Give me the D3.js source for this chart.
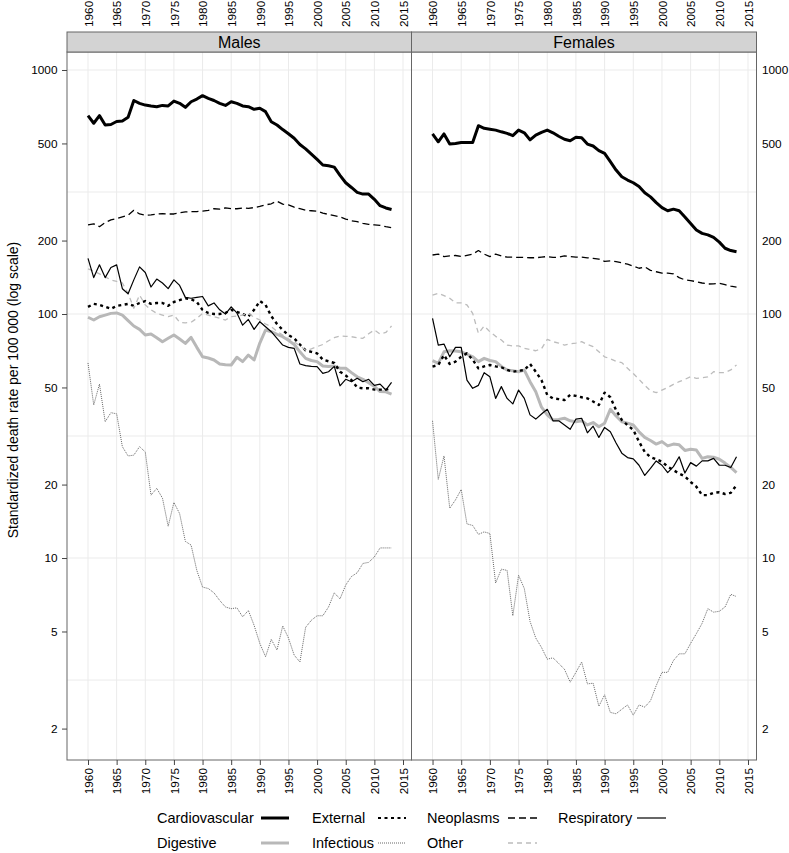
<!DOCTYPE html>
<html><head><meta charset="utf-8">
<script src="https://cdn.jsdelivr.net/npm/d3@7"></script>
<style>
body{margin:0;background:#fff}
svg{display:block}
text{font-family:"Liberation Sans",Arial,Helvetica,sans-serif;fill:#000}
</style>
</head><body>
<svg id="chart" width="789" height="853"></svg>
<script>
// ---------- data ----------
const years = [1960,1961,1962,1963,1964,1965,1966,1967,1968,1969,1970,1971,1972,1973,1974,1975,1976,1977,1978,1979,1980,1981,1982,1983,1984,1985,1986,1987,1988,1989,1990,1991,1992,1993,1994,1995,1996,1997,1998,1999,2000,2001,2002,2003,2004,2005,2006,2007,2008,2009,2010,2011,2012,2013];
const xTickYears = [1960,1965,1970,1975,1980,1985,1990,1995,2000,2005,2010,2015];
const yTickValues = [2,5,10,20,50,100,200,500,1000];
const yGridValues = [3.1623,10,31.623,100,316.23,1000];
const panelNames = ["Males","Females"];
const causes = ["Cardiovascular","Digestive","External","Infectious","Neoplasms","Other","Respiratory"];

const malesCardiovascular = [650,605,650,595,598,615,618,640,750,730,718,712,707,716,712,746,730,703,741,760,785,765,750,730,716,741,730,712,707,690,697,675,614,595,570,548,525,495,475,452,430,408,405,400,370,345,330,315,310,310,295,278,272,268];
const malesDigestive = [97,94.5,97.5,99,100.6,101,99,94,89.3,86.5,82,82.8,80,77,79.5,82,79,75.8,80.2,73,66.8,66,64.8,62.4,62,61.8,66.5,63.8,67.9,64.8,76,86,84.6,82.5,80.7,78,75,70,65.8,64.5,63.8,61.2,61,61.2,60,59.9,57.5,55.3,54,52.3,50.5,48.1,48,47];
const malesExternal = [107,110,109,107,105,108,109,110,108,111,113,110,111,111,108,112,114,116,115,112,104,101,100,100,101,104,102,100,97.5,104,113,109,98,91,86,82,79.5,75,71,70,69,65,64,63,58,56,53.6,50,49.6,49.6,49,49,49,49.6];
const malesInfectious = [63,42.4,51.6,36.2,39.4,39,28.6,26.2,26.4,28.6,27.2,18.1,19.3,17.6,13.5,16.9,15.2,11.7,11.3,8.9,7.6,7.5,7.2,6.7,6.3,6.2,6.25,5.74,6.1,5.3,4.47,3.94,4.64,4.2,5.27,4.7,4.0,3.75,5.2,5.56,5.8,5.8,6.3,7.2,6.8,7.75,8.4,8.7,9.5,9.6,10.1,11,11,11];
const malesNeoplasms = [232,234,228,237,243,246,250,254,266,257,254,255,257,258,257,257,260,262,263,263,264,266,270,269,272,270,270,272,271,273,276,280,283,290,282,280,274,270,266,265,264,259,256,253,250,245,241,239,235,233,232,231,228,226];
const malesOther = [153,150,146,142,138,136,134,121.6,105.5,119.6,109,104,100.6,99,97.5,99,92.5,92,92.5,96,100.6,99,97.5,96,94.5,97.5,98,99,100.6,97,94.5,91,88.7,85,82,79,77,74,71,72,73.5,75,77.7,80,81.3,81,80.7,80,79.5,83,86,82.8,84,89.3];
const malesRespiratory = [169,141,159,141,155,159,127,121,138,156,148,129,139,134,127,138,131,117,116,117,118,108,111,104,100,107,101,90,95,86.5,93,88.7,84.6,79.5,74.6,73,72.3,62.4,61.4,61,60.9,57.1,58,61,50.8,54,52.8,54.5,52.8,54,51,51.6,48.8,52.5];

const femalesCardiovascular = [547,508,547,497,500,504,504,504,591,577,572,567,558,550,538,567,553,517,541,555,567,553,535,520,513,530,528,497,488,467,455,421,389,365,354,345,333,314,302,286,273,265,269,265,250,235,221,214,211,206,197,186,182,180];
const femalesDigestive = [64.4,62.8,70,70.7,70.5,70,68.5,66.8,63.8,65.8,64.5,63.8,61,58.9,58.5,58,58.9,52.8,48,41.5,38.6,36.8,37,37.4,36.5,36.2,36.5,35.1,35.9,34.5,35.7,40.7,38.2,36.2,35.7,35.1,32.9,31.2,30.3,29.3,30,28.8,29.3,29.1,27.6,27.9,27.7,25.6,26,25.9,25.4,24.5,23.5,22.4];
const femalesExternal = [60.9,61.8,67.9,62.4,63.8,66.8,69,65,59.9,61,61.8,61,60.5,59,58,58.5,58.9,62.4,58,53.6,46.6,45.1,44.8,44.4,46.6,46.2,45.6,45.1,43.8,42.4,47.6,45.6,40.4,36.8,35,33.5,30,27.2,25.9,25.4,24.8,23.7,22.9,22.2,21.6,20.5,19.6,18.1,18.1,18.5,18.6,18.3,18.5,19.9];
const femalesInfectious = [36.5,21,26.2,16,17.3,19.1,13.8,13.6,12.5,12.8,12.6,7.9,9,8.9,5.8,8.5,7.5,5.5,4.7,4.3,3.85,3.9,3.7,3.5,3.1,3.4,3.75,3.05,3.07,2.47,2.75,2.33,2.3,2.4,2.5,2.27,2.5,2.45,2.6,3.0,3.4,3.4,3.8,4.05,4.05,4.47,4.9,5.4,6.2,6.0,6.05,6.3,7.1,6.95];
const femalesNeoplasms = [174.5,176,172,173,173.7,172,174,176,182,176,172,176,173,171,171,170.5,170.5,170,170,171,172,170.5,171,173,172,171,171,170,169,168,164.4,165,164,162,160,157,154,156,151,149,147,147,146,141,138,137,135.7,134,132.7,133,133.5,132,130,129];
const femalesOther = [119.6,121.6,119,116,111,111,109,100.6,83.3,89.3,84.6,81,78.2,74.6,74,74,72.3,71.5,70.7,72,78.7,77,76,74.6,75.5,76,77,75,73.5,70,66.8,65.5,64,63.2,59.9,57,54,51,48.5,47.6,48.8,50,51.5,52.8,54,55.3,54.5,54.8,55.3,58,57.5,57.5,59,61.8];
const femalesRespiratory = [96,74.6,75.3,66.8,73,73,53.6,49.6,51,57.5,55.3,45.1,50.4,45.1,42.8,48.8,45.1,38.6,37.1,38.9,40.7,36.5,36.5,35.1,33.7,37.1,37.4,32.6,34.7,31.2,34.3,32.9,29.6,26.9,25.8,25.5,24,21.8,23.3,25,24,22.4,23.7,26,22.3,24.6,23.8,25,25,25.6,24,24,23.5,26];

const seriesByPanel = {
  Males: {Cardiovascular:malesCardiovascular, Digestive:malesDigestive, External:malesExternal, Infectious:malesInfectious, Neoplasms:malesNeoplasms, Other:malesOther, Respiratory:malesRespiratory},
  Females: {Cardiovascular:femalesCardiovascular, Digestive:femalesDigestive, External:femalesExternal, Infectious:femalesInfectious, Neoplasms:femalesNeoplasms, Other:femalesOther, Respiratory:femalesRespiratory}
};

// ---------- styles ----------
const styles = {
  Cardiovascular:{stroke:"#000", width:3, dash:null},
  Digestive:{stroke:"#b8b8b8", width:3, dash:null},
  External:{stroke:"#000", width:2.4, dash:"3,3.5"},
  Infectious:{stroke:"#666", width:1, dash:"1,1"},
  Neoplasms:{stroke:"#000", width:1.3, dash:"7,4"},
  Other:{stroke:"#bcbcbc", width:1.3, dash:"5,4"},
  Respiratory:{stroke:"#000", width:1.2, dash:null}
};

// ---------- layout ----------
const svg = d3.select("#chart");
const plotTop = 52, plotBottom = 760, stripTop = 32;
const panelX = [[67, 411.5],[411.5, 756.5]];
const y = d3.scaleLog().domain([1.487, 1185]).range([plotBottom, plotTop]);
const tickFont = "11.8px";
const fontFam = '"Liberation Sans",Arial,sans-serif';

panelNames.forEach((name, pi) => {
  const [x0, x1] = panelX[pi];
  const x = d3.scaleLinear().domain([1956.333, 2016.484]).range([x0, x1]);
  const g = svg.append("g");

  // grid
  g.selectAll(".vg").data(xTickYears).join("line")
    .attr("x1", d => x(d)).attr("x2", d => x(d))
    .attr("y1", plotTop).attr("y2", plotBottom)
    .attr("stroke", "#ebebeb").attr("stroke-width", 1);
  g.selectAll(".hg").data(yGridValues).join("line")
    .attr("x1", x0).attr("x2", x1)
    .attr("y1", d => y(d)).attr("y2", d => y(d))
    .attr("stroke", "#ebebeb").attr("stroke-width", 1);

  // lines
  const line = d3.line().x((d, i) => x(years[i])).y(d => y(d));
  causes.forEach(c => {
    const s = styles[c];
    g.append("path").datum(seriesByPanel[name][c])
      .attr("d", line).attr("fill", "none")
      .attr("stroke", s.stroke).attr("stroke-width", s.width)
      .attr("stroke-dasharray", s.dash)
      .attr("stroke-linejoin", "round");
  });

  // frame
  g.append("rect").attr("x", x0).attr("y", plotTop).attr("width", x1 - x0).attr("height", plotBottom - plotTop)
    .attr("fill", "none").attr("stroke", "#666").attr("stroke-width", 1);

  // strip
  g.append("rect").attr("x", x0).attr("y", stripTop).attr("width", x1 - x0).attr("height", plotTop - stripTop)
    .attr("fill", "#d3d3d3").attr("stroke", "#666").attr("stroke-width", 1);
  g.append("text").attr("x", (x0 + x1) / 2).attr("y", (stripTop + plotTop) / 2)
    .attr("dy", "0.36em").attr("text-anchor", "middle").style("font-size", "16px").text(name);

  // bottom axis
  const bAxis = svg.append("g").attr("transform", `translate(0,${plotBottom})`)
    .call(d3.axisBottom(x).tickValues(xTickYears).tickSize(5).tickFormat(d3.format("d")));
  bAxis.select(".domain").remove();
  bAxis.selectAll(".tick line").attr("stroke", "#444");
  bAxis.selectAll("text").attr("transform", "rotate(-90)").attr("x", -8).attr("y", 0)
    .attr("dy", "0.36em").style("text-anchor", "end").style("font-size", tickFont)
    .style("font-family", fontFam);

  // top axis
  const tAxis = svg.append("g").attr("transform", `translate(0,${stripTop})`)
    .call(d3.axisTop(x).tickValues(xTickYears).tickSize(0).tickFormat(d3.format("d")));
  tAxis.select(".domain").remove();
  tAxis.selectAll("text").attr("transform", "rotate(-90)").attr("x", 5).attr("y", 0)
    .attr("dy", "0.36em").style("text-anchor", "start").style("font-size", tickFont)
    .style("font-family", fontFam);

  if (pi === 0) {
    const lAxis = svg.append("g").attr("transform", `translate(${x0},0)`)
      .call(d3.axisLeft(y).tickValues(yTickValues).tickSize(5).tickPadding(4.5).tickFormat(d3.format("d")));
    lAxis.select(".domain").remove();
    lAxis.selectAll(".tick line").attr("stroke", "#444");
    lAxis.selectAll("text").style("font-size", tickFont).style("font-family", fontFam);
  } else {
    const rAxis = svg.append("g").attr("transform", `translate(${x1},0)`)
      .call(d3.axisRight(y).tickValues(yTickValues).tickSize(0).tickPadding(5.5).tickFormat(d3.format("d")));
    rAxis.select(".domain").remove();
    rAxis.selectAll("text").style("font-size", tickFont).style("font-family", fontFam);
  }
});

// y label
svg.append("text").attr("transform", `translate(13,390) rotate(-90)`)
  .attr("text-anchor", "middle").attr("dy", "0.36em").style("font-size", "14px")
  .text("Standardized death rate per 100 000 (log scale)");

// legend
const legendItems = [
  {c:"Cardiovascular", tx:157, lx:[261,289], y:818},
  {c:"External", tx:312, lx:[378,406], y:818},
  {c:"Neoplasms", tx:427, lx:[508,537], y:818},
  {c:"Respiratory", tx:558, lx:[637,666], y:818},
  {c:"Digestive", tx:157, lx:[261,289], y:843},
  {c:"Infectious", tx:312, lx:[378,406], y:843},
  {c:"Other", tx:427, lx:[508,537], y:843}
];
const lg = svg.append("g");
legendItems.forEach(it => {
  const s = styles[it.c];
  lg.append("text").attr("x", it.tx).attr("y", it.y).attr("dy", "0.36em")
    .style("font-size", "14.5px").text(it.c);
  lg.append("line").attr("x1", it.lx[0]).attr("x2", it.lx[1]).attr("y1", it.y).attr("y2", it.y)
    .attr("stroke", s.stroke).attr("stroke-width", it.c === "External" ? 2 : s.width).attr("stroke-dasharray", s.dash);
});
</script>
</body></html>
